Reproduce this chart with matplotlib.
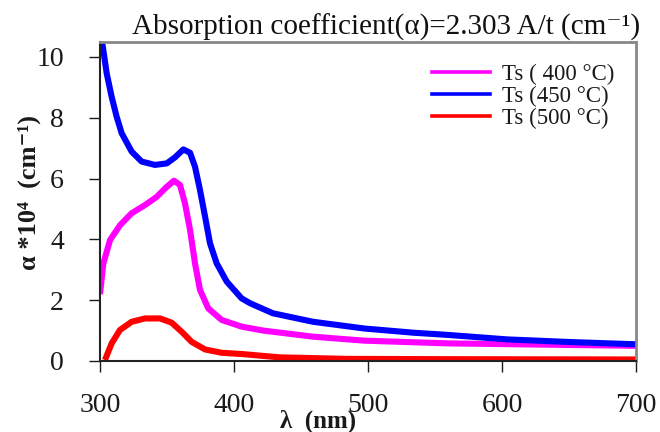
import matplotlib
matplotlib.use("Agg")
import matplotlib.pyplot as plt

plt.rcParams['font.family'] = ['Liberation Serif', 'DejaVu Serif']

# Data (wavelength nm, alpha * 1e4)
wl_400 = [300, 302.5, 307.5, 315, 323.6, 333.6, 342.3, 349.8, 355.2, 359.7, 363.4, 367.2, 370.9, 374.6,
          380.8, 390.8, 405.7, 422, 459, 497, 559, 628, 700]
a_400 = [2.2, 3.21, 3.98, 4.47, 4.86, 5.13, 5.4, 5.73, 5.93, 5.79, 5.19, 4.31, 3.21, 2.34,
         1.73, 1.35, 1.13, 1.0, 0.8, 0.67, 0.58, 0.54, 0.5]

wl_450 = [300, 301.3, 305, 308.7, 312.4, 316.2, 323.6, 331.1, 341, 349.8, 356, 362.2, 367.2, 370.9,
          374.6, 378.4, 382.1, 387.1, 394.6, 405.7, 412, 429, 459, 497, 534, 559, 604, 653, 700]
a_450 = [11.0, 10.58, 9.46, 8.69, 8.04, 7.49, 6.89, 6.56, 6.45, 6.5, 6.7, 6.96, 6.85, 6.39,
         5.63, 4.75, 3.87, 3.21, 2.61, 2.06, 1.9, 1.57, 1.29, 1.07, 0.93, 0.86, 0.71, 0.62, 0.55]

wl_500 = [303.7, 308.7, 314.9, 323.6, 333.6, 344.8, 353.5, 361, 368.4, 378.4, 390.8, 405.7,
          434, 484, 558, 700]
a_500 = [0.03, 0.58, 1.02, 1.29, 1.4, 1.4, 1.26, 0.96, 0.63, 0.38, 0.27, 0.23,
         0.12, 0.07, 0.06, 0.05]

labels = ['Ts ( 400 °C)', 'Ts (450 °C)', 'Ts (500 °C)']
colors = ['#FF00FF', '#0000FF', '#FF0000']
x_ticks = [300, 400, 500, 600, 700]
y_ticks = [0, 2, 4, 6, 8, 10]

fig = plt.figure(figsize=(6.6, 4.32), dpi=100)
ax = fig.add_axes([100/660, 1 - 361/432, 536/660, 319.2/432])

series = [(wl_400, a_400), (wl_450, a_450), (wl_500, a_500)]
for (x, y), c, lab in zip(series, colors, labels):
    ax.plot(x, y, color=c, lw=4.4, solid_joinstyle='round', solid_capstyle='butt', label=lab)

ax.set_xlim(300, 700)
ax.set_ylim(0, 10.5)
ax.set_xticks(x_ticks)
ax.set_yticks(y_ticks)
ax.tick_params(axis='x', direction='out', length=8, width=1, pad=15, labelsize=20, colors='#1a1a1a')
ax.tick_params(axis='y', direction='out', length=8, width=1, pad=18, labelsize=20, colors='#1a1a1a')

for s in ['left', 'bottom']:
    ax.spines[s].set_color('#222222')
    ax.spines[s].set_linewidth(1.5)
for s in ['top', 'right']:
    ax.spines[s].set_color('#888888')
    ax.spines[s].set_linewidth(2)

leg_lines = [plt.Line2D([], [], color=c, lw=2.6) for c in colors]
leg = ax.legend(leg_lines, labels, loc='upper right', bbox_to_anchor=(0.985, 0.975),
                frameon=False, fontsize=16.5, handlelength=2.55, handletextpad=0.5,
                labelspacing=0.05, borderaxespad=0.2)
for t in leg.get_texts():
    t.set_color('#1a1a1a')

fig.text(640/660, 1 - 27/432, 'Absorption coefficient(α)=2.303 A/t (cm⁻¹)',
         ha='right', va='center', fontsize=21, color='#111111')
fig.text(318/660, 1 - 421/432, 'λ  (nm)', ha='center', va='center',
         fontsize=18, fontweight='bold', color='#1a1a1a')
fig.text(29/660, 1 - 192/432, 'α *10⁴  (cm⁻¹)', ha='center', va='center',
         rotation=90, fontsize=19, fontweight='bold', color='#1a1a1a')

fig.savefig('out.png', dpi=100)
